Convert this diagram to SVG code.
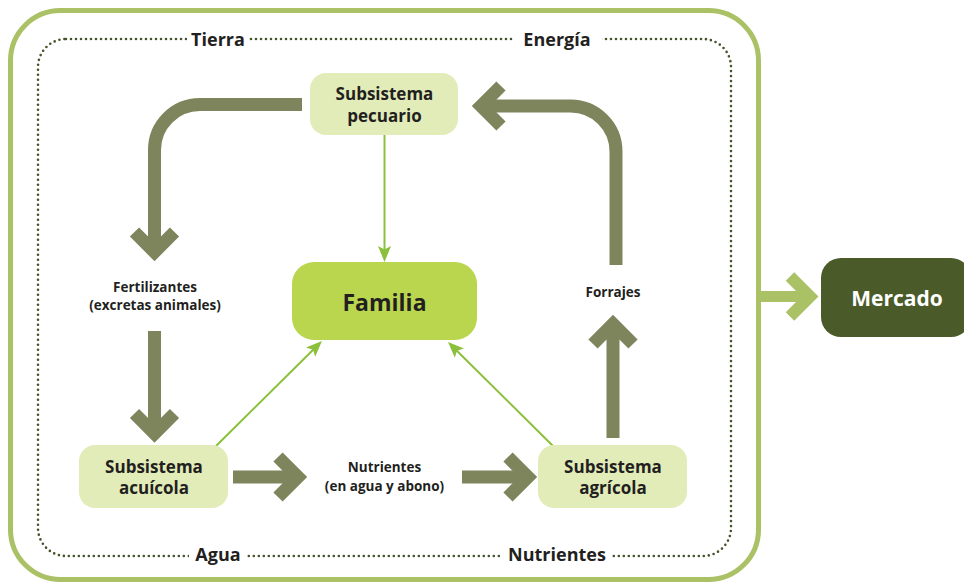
<svg xmlns="http://www.w3.org/2000/svg" width="964" height="582" viewBox="0 0 964 582">
<style>
  text { font-family: "Open Sans", "Liberation Sans", sans-serif; font-weight: 700; fill: #231f20; text-anchor: middle; }
  .frame { fill: none; stroke: #aac165; stroke-width: 5; }
  .dots { fill: none; stroke: #44532a; stroke-width: 2.6; stroke-linecap: round; stroke-dasharray: 0 5; }
  .gap { fill: #ffffff; }
  .edge-label { font-size: 18px; }
  .sub { fill: #e2ecb9; }
  .sub-t { font-size: 17px; }
  .fam { fill: #bad64f; }
  .merc { fill: #4b5a29; }
  .big { fill: none; stroke: #7e845c; stroke-width: 13; }
  .thin { fill: none; stroke: #8bbf3c; stroke-width: 2; }
  .out { fill: none; stroke: #aac165; stroke-width: 11; }
  .lbl { font-size: 13.5px; }
</style>
<defs>
  <marker id="chev" markerUnits="userSpaceOnUse" orient="auto" refX="0" refY="0" markerWidth="60" markerHeight="60" overflow="visible">
    <path d="M-20,-20 L0,0 L-20,20" fill="none" stroke="#7e845c" stroke-width="13" stroke-linejoin="miter"/>
  </marker>
  <marker id="chev-out" markerUnits="userSpaceOnUse" orient="auto" refX="0" refY="0" markerWidth="60" markerHeight="60" overflow="visible">
    <path d="M-20,-20 L0,0 L-20,20" fill="none" stroke="#aac165" stroke-width="12" stroke-linejoin="miter"/>
  </marker>
  <marker id="tri" markerUnits="userSpaceOnUse" orient="auto" refX="0" refY="0" markerWidth="30" markerHeight="30" overflow="visible">
    <path d="M-10,-6.5 L6,0 L-10,6.5 L-6.5,0 Z" fill="#8bbf3c"/>
  </marker>
</defs>

<g id="frame">
  <rect class="frame" x="10.5" y="10.5" width="748" height="569" rx="50" ry="50"/>
  <rect class="dots" x="38" y="39" width="693" height="517" rx="28" ry="28"/>
  <rect class="gap" x="187" y="30" width="62" height="20"/>
  <rect class="gap" x="513" y="30" width="89" height="20"/>
  <rect class="gap" x="189" y="546" width="58" height="20"/>
  <rect class="gap" x="500" y="546" width="112" height="20"/>
  <text class="edge-label" x="218" y="46">Tierra</text>
  <text class="edge-label" x="557" y="46">Energía</text>
  <text class="edge-label" x="218" y="561">Agua</text>
  <text class="edge-label" x="557" y="561">Nutrientes</text>
</g>

<g id="connectors">
  <path class="big" d="M302,104.5 H200 A45.5,45.5 0 0 0 154.5,150 V252" marker-end="url(#chev)"/>
  <path class="big" d="M154.5,331 V433.5" marker-end="url(#chev)"/>
  <path class="big" d="M616,265 V151.5 A45.5,45.5 0 0 0 570.5,106 H481" marker-end="url(#chev)"/>
  <path class="big" d="M613,438 V324" marker-end="url(#chev)"/>
  <path class="big" d="M233,477 H298" marker-end="url(#chev)"/>
  <path class="big" d="M462,477 H528" marker-end="url(#chev)"/>
  <path class="out" d="M759,296.5 H810" marker-end="url(#chev-out)"/>
  <path class="thin" d="M384.5,135 V256" marker-end="url(#tri)"/>
  <path class="thin" d="M216,446 L317.7,345.2" marker-end="url(#tri)"/>
  <path class="thin" d="M553,446 L452.3,346.2" marker-end="url(#tri)"/>
  <text class="lbl" x="155" y="292">Fertilizantes</text>
  <text class="lbl" x="155" y="310">(excretas animales)</text>
  <text class="lbl" x="613" y="297">Forrajes</text>
  <text class="lbl" x="384.5" y="472">Nutrientes</text>
  <text class="lbl" x="384.5" y="491">(en agua y abono)</text>
</g>

<g id="pecuario">
  <rect class="sub" x="310" y="73" width="148" height="62" rx="16" ry="16"/>
  <text class="sub-t" x="384.5" y="99.5">Subsistema</text>
  <text class="sub-t" x="384.5" y="121.5">pecuario</text>
</g>

<g id="familia">
  <rect class="fam" x="292" y="262" width="185" height="78" rx="22" ry="22"/>
  <text x="384.5" y="311" style="font-size:23px">Familia</text>
</g>

<g id="acuicola">
  <rect class="sub" x="79" y="445" width="149" height="63" rx="16" ry="16"/>
  <text class="sub-t" x="154" y="473">Subsistema</text>
  <text class="sub-t" x="154" y="494">acuícola</text>
</g>

<g id="agricola">
  <rect class="sub" x="538" y="445" width="149" height="63" rx="16" ry="16"/>
  <text class="sub-t" x="613" y="473">Subsistema</text>
  <text class="sub-t" x="613" y="494">agrícola</text>
</g>

<g id="mercado">
  <rect class="merc" x="821" y="258" width="150" height="79" rx="20" ry="20"/>
  <text x="897" y="306" style="font-size:21px; fill:#ffffff">Mercado</text>
</g>
</svg>
